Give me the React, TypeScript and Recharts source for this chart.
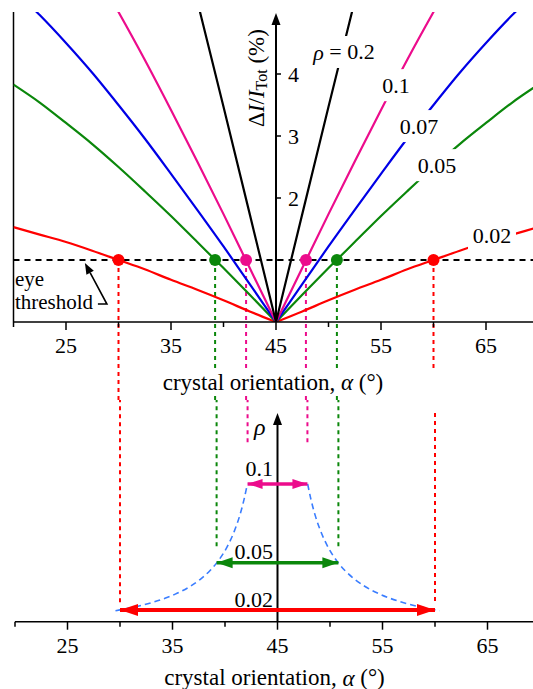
import {
  ComposedChart,
  Line,
  ReferenceDot,
  ReferenceLine,
  XAxis,
  YAxis,
} from 'recharts';

const SERIF = '"Liberation Serif", "Times New Roman", serif';
const RED = '#ff0000';
const GREEN = '#0b870b';
const BLUE = '#0000e6';
const PINK = '#ec0c8c';
const CURVE_BLUE = '#3a7dff';

// crystal orientation (deg) and ΔI/I_Tot (%) per ρ
const ALPHA = [20, 22.5, 25, 27.5, 30, 32.5, 35, 37.5, 40, 42.5, 45, 47.5, 50, 52.5, 55, 57.5, 60, 62.5, 65, 67.5, 70];
const DI_002 = [1.53, 1.41, 1.29, 1.15, 1.0, 0.85, 0.68, 0.52, 0.35, 0.17, 0, 0.17, 0.35, 0.52, 0.68, 0.85, 1.0, 1.15, 1.29, 1.41, 1.53];
const DI_005 = [3.83, 3.54, 3.21, 2.87, 2.5, 2.11, 1.71, 1.29, 0.87, 0.44, 0, 0.44, 0.87, 1.29, 1.71, 2.11, 2.5, 2.87, 3.21, 3.54, 3.83];
const DI_007 = [5.36, 4.95, 4.5, 4.02, 3.5, 2.96, 2.39, 1.81, 1.22, 0.61, 0, 0.61, 1.22, 1.81, 2.39, 2.96, 3.5, 4.02, 4.5, 4.95, 5.36];
const DI_01 = [null, null, null, 5.74, 5.0, 4.23, 3.42, 2.59, 1.74, 0.87, 0, 0.87, 1.74, 2.59, 3.42, 4.23, 5.0, 5.74, null, null, null];
const DI_02 = [null, null, null, null, null, null, null, 5.18, 3.47, 1.74, 0, 1.74, 3.47, 5.18, null, null, null, null, null, null, null];

const SERIES = [
  { key: 'r002', values: DI_002, color: RED },
  { key: 'r005', values: DI_005, color: GREEN },
  { key: 'r007', values: DI_007, color: BLUE },
  { key: 'r01', values: DI_01, color: PINK },
  { key: 'r02', values: DI_02, color: '#000' },
];

const CURVE_LABELS = ['ρ = 0.2', '0.1', '0.07', '0.05', '0.02'];

const X_TICKS = [20, 25, 30, 35, 40, 45, 50, 55, 60, 65, 70];
const X_LABELED = [25, 35, 45, 55, 65];
const Y_TICKS = [1, 2, 3, 4];
const Y_LABELED = [2, 3, 4];
const THRESHOLD = 1;
const CENTER = 45;

// where each curve crosses the eye threshold
const CROSS_RED = [30, 60];
const CROSS_GREEN = [39.2, 50.8];
const CROSS_PINK = [42.15, 47.85];

// bottom panel: threshold width vs ρ
const RHO_MIN = 0.0125;
const RHO_MAX = 0.145;
const CURVE_RHO = [0.0195, 0.02, 0.021, 0.0225, 0.025, 0.0275, 0.03, 0.035, 0.04, 0.045, 0.05, 0.06, 0.07, 0.08, 0.09, 0.1];
const CURVE_LEFT = [29.57, 30.0, 30.78, 31.81, 33.21, 34.34, 35.26, 36.7, 37.76, 38.58, 39.23, 40.2, 40.89, 41.41, 41.81, 42.13];
const CURVE_RIGHT = [60.43, 60.0, 59.22, 58.19, 56.79, 55.66, 54.74, 53.3, 52.24, 51.42, 50.77, 49.8, 49.11, 48.59, 48.19, 47.87];
const ARROW_RHO = [0.02, 0.05, 0.1];
const ARROW_LABELS = ['0.02', '0.05', '0.1'];

// each V is split into two halves so the smoothing keeps the cusp at 45°
const topData = ALPHA.map((a, i) => {
  const row: Record<string, number | null> = { alpha: a };
  SERIES.forEach((s) => {
    row[`${s.key}L`] = a <= CENTER ? s.values[i] : null;
    row[`${s.key}R`] = a >= CENTER ? s.values[i] : null;
  });
  return row;
});

const curveLeft = CURVE_RHO.map((r, i) => ({ alpha: CURVE_LEFT[i], rho: r }));
const curveRight = CURVE_RHO.map((r, i) => ({ alpha: CURVE_RIGHT[i], rho: r })).reverse();

function AxisTick(props: any) {
  const { x, y, payload } = props;
  const major = X_LABELED.includes(payload.value);
  return (
    <g>
      <line x1={x} y1={y} x2={x} y2={y + (major ? 8 : 5)} stroke="#000" strokeWidth={1.5} />
      {major && (
        <text x={x} y={y + 23.5} textAnchor="middle" dominantBaseline="central" fontSize={22} fontFamily={SERIF} fill="#000">
          {payload.value}
        </text>
      )}
    </g>
  );
}

function AxisTitle({ cx, cy, box }: { cx: number; cy: number; box: boolean }) {
  return (
    <g>
      {box && <rect x={cx - 124} y={cy - 14} width={248} height={28} fill="#fff" />}
      <text x={cx - 3} y={cy} textAnchor="middle" dominantBaseline="central" fontSize={23} fontFamily={SERIF} fill="#000">
        crystal orientation, <tspan fontStyle="italic">α</tspan> (°)
      </text>
    </g>
  );
}

function CurveLabel({ cx, cy, text }: { cx: number; cy: number; text: string }) {
  const w = text.length * 10 + 8;
  const italic = text.startsWith('ρ');
  return (
    <g>
      <rect x={cx - w / 2} y={cy - 16} width={w} height={32} fill="#fff" />
      <text x={cx} y={cy} textAnchor="middle" dominantBaseline="central" fontSize={22} fontFamily={SERIF} fill="#000">
        {italic ? (
          <>
            <tspan fontStyle="italic">ρ</tspan>
            {text.slice(1)}
          </>
        ) : (
          text
        )}
      </text>
    </g>
  );
}

function UpArrow({ cx, cy }: { cx: number; cy: number }) {
  return <path d={`M${cx},${cy + 1} L${cx - 4.5},${cy + 13} L${cx + 4.5},${cy + 13} Z`} fill="#000" />;
}

function EyeNote({ cx, cy }: { cx: number; cy: number }) {
  const tipX = cx;
  const tipY = cy + 3;
  const elbowX = cx + 22;
  const elbowY = cy + 44;
  const dx = tipX - elbowX;
  const dy = tipY - elbowY;
  const len = Math.hypot(dx, dy);
  const ux = dx / len;
  const uy = dy / len;
  const bx = tipX - ux * 11;
  const by = tipY - uy * 11;
  return (
    <g>
      <path d={`M${cx + 13},${elbowY} L${elbowX},${elbowY} L${bx},${by}`} fill="none" stroke="#000" strokeWidth={1.6} />
      <path d={`M${tipX},${tipY} L${bx - uy * 4.2},${by + ux * 4.2} L${bx + uy * 4.2},${by - ux * 4.2} Z`} fill="#000" />
      <text x={cx - 70} y={cy + 25.5} fontSize={21} fontFamily={SERIF} fill="#000">eye</text>
      <text x={cx - 70} y={cy + 48.5} fontSize={21} fontFamily={SERIF} fill="#000">threshold</text>
    </g>
  );
}

function arrowDot(len: number, half: number, color: string) {
  return (p: any) => {
    const dir = p.index === 0 ? 1 : -1;
    return (
      <path
        key={`h${p.index}`}
        d={`M${p.cx},${p.cy} L${p.cx + dir * len},${p.cy - half} L${p.cx + dir * len},${p.cy + half} Z`}
        fill={color}
      />
    );
  };
}

const CROSSINGS = [
  { xs: CROSS_RED, color: RED },
  { xs: CROSS_GREEN, color: GREEN },
  { xs: CROSS_PINK, color: PINK },
];

// the right-hand red drop line is broken between the two panels
const isBroken = (a: number) => a === CROSS_RED[1];

function TopPanel() {
  const labelAt = [
    { x: 51.48, y: 4.355 },
    { x: 56.43, y: 3.82 },
    { x: 58.62, y: 3.16 },
    { x: 60.33, y: 2.53 },
    { x: 65.57, y: 1.4 },
  ];
  return (
    <ComposedChart width={545} height={400} data={topData} margin={{ top: 12, right: 6.5, bottom: 0, left: 13.5 }}>
      <XAxis
        dataKey="alpha"
        type="number"
        domain={[20, 70]}
        ticks={X_TICKS}
        interval={0}
        allowDataOverflow
        tickLine={false}
        tickSize={0}
        tickMargin={0}
        tick={(p: any) => <AxisTick {...p} />}
        axisLine={{ stroke: '#000', strokeWidth: 1.5 }}
        height={78}
      />
      <YAxis type="number" domain={[0, 5]} allowDataOverflow hide />
      <ReferenceLine segment={[{ x: 20, y: 0 }, { x: 20, y: 5 }]} stroke="#000" strokeWidth={1.5} />
      <ReferenceLine y={THRESHOLD} stroke="#000" strokeWidth={2} strokeDasharray="6 5" />
      {CROSSINGS.flatMap((c) =>
        c.xs.map((a) => (
          <ReferenceLine
            key={`v${a}`}
            segment={[{ x: a, y: THRESHOLD }, { x: a, y: isBroken(a) ? -0.74 : -1.4 }]}
            ifOverflow="visible"
            stroke={c.color}
            strokeWidth={2}
            strokeDasharray="4 4"
          />
        )),
      )}
      {SERIES.flatMap((s) =>
        ['L', 'R'].map((side) => (
          <Line
            key={`${s.key}${side}`}
            dataKey={`${s.key}${side}`}
            type="monotone"
            stroke={s.color}
            strokeWidth={2.2}
            dot={false}
            activeDot={false}
            isAnimationActive={false}
          />
        )),
      )}
      <ReferenceLine segment={[{ x: 45, y: 0 }, { x: 45, y: 4.85 }]} stroke="#000" strokeWidth={2} />
      {CURVE_LABELS.map((t, i) => (
        <ReferenceDot
          key={t}
          x={labelAt[i].x}
          y={labelAt[i].y}
          r={0}
          ifOverflow="visible"
          shape={(p: any) => <CurveLabel cx={p.cx} cy={p.cy} text={t} />}
        />
      ))}
      {Y_TICKS.map((v) => (
        <ReferenceDot
          key={`yt${v}`}
          x={45}
          y={v}
          r={0}
          ifOverflow="visible"
          shape={(p: any) => (
            <g>
              <line x1={p.cx} y1={p.cy} x2={p.cx + 5} y2={p.cy} stroke="#000" strokeWidth={1.5} />
              {Y_LABELED.includes(v) && (
                <text x={p.cx + 12} y={p.cy} dominantBaseline="central" fontSize={22} fontFamily={SERIF} fill="#000">
                  {v}
                </text>
              )}
            </g>
          )}
        />
      ))}
      <ReferenceDot
        x={45}
        y={5}
        r={0}
        ifOverflow="visible"
        shape={(p: any) => (
          <g>
            <UpArrow cx={p.cx} cy={p.cy} />
            <text
              transform={`translate(${p.cx - 20},${p.cy + 66}) rotate(-90)`}
              textAnchor="middle"
              dominantBaseline="central"
              fontSize={23}
              fontFamily={SERIF}
              fill="#000"
            >
              Δ<tspan fontStyle="italic">I</tspan>/<tspan fontStyle="italic">I</tspan>
              <tspan fontSize={16} dy={5}>Tot</tspan>
              <tspan dy={-5}> (%)</tspan>
            </text>
          </g>
        )}
      />
      {CROSSINGS.flatMap((c) =>
        c.xs.map((a) => (
          <ReferenceDot key={`d${a}`} x={a} y={THRESHOLD} r={6} fill={c.color} stroke="none" ifOverflow="visible" />
        )),
      )}
      <ReferenceDot x={26.8} y={THRESHOLD} r={0} ifOverflow="visible" shape={(p: any) => <EyeNote cx={p.cx} cy={p.cy} />} />
      <ReferenceDot x={45} y={0} r={0} ifOverflow="visible" shape={(p: any) => <AxisTitle cx={p.cx} cy={p.cy + 60} box />} />
    </ComposedChart>
  );
}

function BottomPanel() {
  const dashEnd = [0.024, 0.059, 0.126];
  const labelLift = [3, 4, 8];
  const heads = [
    { len: 18, half: 6, width: 4 },
    { len: 16, half: 5.5, width: 3.5 },
    { len: 15, half: 5, width: 3.5 },
  ];
  return (
    <ComposedChart width={545} height={289} margin={{ top: 13, right: 5, bottom: 0, left: 15 }}>
      <XAxis
        dataKey="alpha"
        type="number"
        domain={[20, 70]}
        ticks={X_TICKS}
        interval={0}
        allowDataOverflow
        tickLine={false}
        tickSize={0}
        tickMargin={0}
        tick={(p: any) => <AxisTick {...p} />}
        axisLine={{ stroke: '#000', strokeWidth: 1.5 }}
        height={67.3}
      />
      <YAxis type="number" dataKey="rho" domain={[RHO_MIN, RHO_MAX]} allowDataOverflow hide />
      {CROSSINGS.flatMap((c, i) =>
        c.xs.map((a) => (
          <ReferenceLine
            key={`bv${a}`}
            segment={[{ x: a, y: isBroken(a) ? RHO_MAX : 0.2 }, { x: a, y: dashEnd[i] }]}
            ifOverflow="visible"
            stroke={c.color}
            strokeWidth={2}
            strokeDasharray="4 4"
          />
        )),
      )}
      <Line data={curveLeft} dataKey="rho" type="monotone" stroke={CURVE_BLUE} strokeWidth={1.6} strokeDasharray="6 4" dot={false} activeDot={false} isAnimationActive={false} />
      <Line data={curveRight} dataKey="rho" type="monotone" stroke={CURVE_BLUE} strokeWidth={1.6} strokeDasharray="6 4" dot={false} activeDot={false} isAnimationActive={false} />
      <ReferenceLine segment={[{ x: 45, y: RHO_MIN }, { x: 45, y: RHO_MAX - 0.004 }]} stroke="#000" strokeWidth={2} />
      {CROSSINGS.map((c, i) => (
        <Line
          key={`arr${i}`}
          data={[
            { alpha: c.xs[0], rho: ARROW_RHO[i] },
            { alpha: c.xs[1], rho: ARROW_RHO[i] },
          ]}
          dataKey="rho"
          type="linear"
          stroke={c.color}
          strokeWidth={heads[i].width}
          dot={arrowDot(heads[i].len, heads[i].half, c.color)}
          activeDot={false}
          isAnimationActive={false}
        />
      ))}
      {ARROW_LABELS.map((t, i) => (
        <ReferenceDot
          key={t}
          x={45}
          y={ARROW_RHO[i]}
          r={0}
          ifOverflow="visible"
          shape={(p: any) => (
            <text x={p.cx - 4.5} y={p.cy - labelLift[i]} textAnchor="end" fontSize={22} fontFamily={SERIF} fill="#000">
              {t}
            </text>
          )}
        />
      ))}
      <ReferenceDot
        x={45}
        y={RHO_MAX}
        r={0}
        ifOverflow="visible"
        shape={(p: any) => (
          <g>
            <UpArrow cx={p.cx} cy={p.cy - 1} />
            <text x={p.cx - 12} y={p.cy + 22} textAnchor="end" fontSize={24} fontStyle="italic" fontFamily={SERIF} fill="#000">
              ρ
            </text>
          </g>
        )}
      />
      <ReferenceDot x={45} y={RHO_MIN} r={0} ifOverflow="visible" shape={(p: any) => <AxisTitle cx={p.cx} cy={p.cy + 56} box={false} />} />
    </ComposedChart>
  );
}

export default function App() {
  return (
    <div style={{ position: 'absolute', left: 0, top: 0, width: 533, height: 689, overflow: 'hidden', background: '#fff' }}>
      <div style={{ position: 'absolute', left: 0, top: 0 }}>
        <TopPanel />
      </div>
      <div style={{ position: 'absolute', left: 0, top: 400 }}>
        <BottomPanel />
      </div>
    </div>
  );
}
